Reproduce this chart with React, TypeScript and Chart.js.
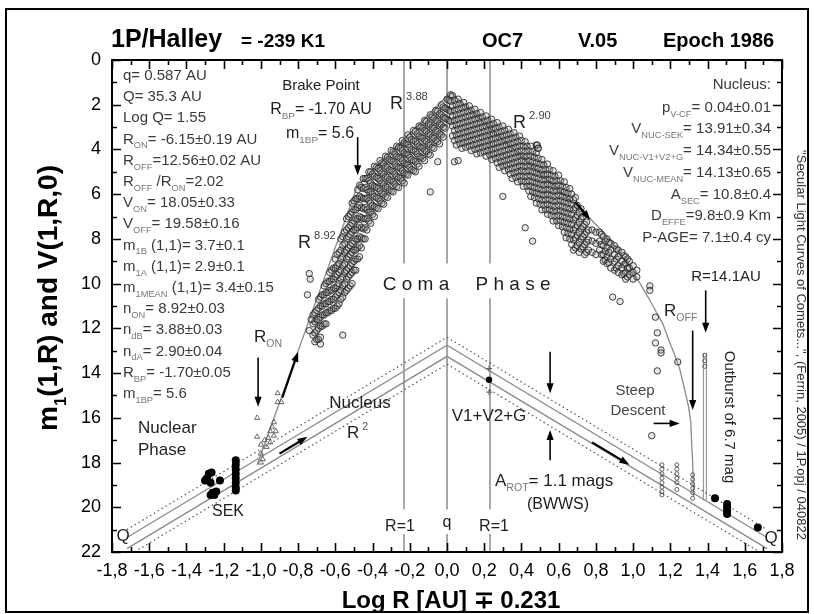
import React, { useEffect, useRef } from "react";
import { Chart, registerables } from "chart.js";

Chart.register(...registerables);

// ---------------- data ----------------
const xMin = -1.8;
const xMax = 1.8;
const yMin = 0;
const yMax = 22;

// pre-perihelion coma observations: column x and magnitudes
const preX = [
  -0.72, -0.71, -0.7, -0.69, -0.68, -0.67, -0.66, -0.65, -0.64, -0.63, -0.62, -0.61, -0.6, -0.59, -0.58, -0.57, -0.56, -0.55,
  -0.54, -0.53, -0.52, -0.51, -0.5, -0.49, -0.48, -0.47, -0.46, -0.45, -0.44, -0.43, -0.42, -0.41, -0.4, -0.39, -0.38, -0.37,
  -0.36, -0.35, -0.34, -0.33, -0.32, -0.31, -0.3, -0.29, -0.28, -0.27, -0.26, -0.25, -0.24, -0.23, -0.22, -0.21, -0.2, -0.19,
  -0.18, -0.17, -0.16, -0.15, -0.14, -0.13, -0.12, -0.11, -0.1, -0.09, -0.08, -0.07, -0.06, -0.05, -0.04, -0.03, -0.02, -0.01,
];
const preM = [
  [11.4, 11.8, 12.3], [11.3, 11.7, 12.2, 12.6], [11.2, 11.6, 12.1, 12.5], [10.7, 11.1, 11.6, 12.0, 12.5],
  [10.6, 11.0, 11.5, 11.9, 12.4], [10.5, 11.0, 11.4, 11.9], [10.1, 10.5, 10.9, 11.4, 11.8], [10.0, 10.4, 10.9, 11.3, 11.8],
  [9.9, 10.4, 10.8, 11.3], [9.5, 9.9, 10.3, 10.8, 11.2], [9.4, 9.8, 10.3, 10.7, 11.2], [9.3, 9.8, 10.2, 10.7, 11.1],
  [8.9, 9.3, 9.7, 10.2, 10.6, 11.1], [8.7, 9.2, 9.6, 10.1, 10.5, 11.0], [8.6, 9.1, 9.5, 10.0, 10.4, 10.9],
  [8.0, 8.5, 8.9, 9.4, 9.8, 10.3, 10.7], [7.9, 8.3, 8.8, 9.2, 9.7, 10.1, 10.6], [7.7, 8.2, 8.6, 9.1, 9.5, 10.0, 10.4],
  [7.1, 7.6, 8.0, 8.5, 8.9, 9.4, 9.8, 10.3], [7.0, 7.5, 7.9, 8.4, 8.8, 9.3, 9.7, 10.2], [6.9, 7.4, 7.8, 8.3, 8.7, 9.2, 9.6, 10.1],
  [6.4, 6.8, 7.3, 7.7, 8.2, 8.6, 9.1, 9.5, 10.0], [6.3, 6.7, 7.2, 7.6, 8.1, 8.5, 9.0, 9.4], [6.2, 6.7, 7.1, 7.6, 8.0, 8.5, 8.9, 9.4],
  [5.8, 6.2, 6.6, 7.1, 7.5, 8.0, 8.4, 8.9], [5.6, 6.1, 6.5, 7.0, 7.4, 7.9, 8.3, 8.8], [5.7, 6.15, 6.6, 7.05, 7.5, 7.95, 8.4],
  [5.3, 5.75, 6.2, 6.65, 7.1, 7.55, 8.0], [5.3, 5.7, 6.2, 6.6, 7.1, 7.5, 8.0], [5.3, 5.8, 6.2, 6.7, 7.1, 7.6],
  [5.0, 5.4, 5.9, 6.3, 6.8, 7.2], [5.0, 5.5, 5.9, 6.4, 6.8, 7.3], [5.1, 5.6, 6.0, 6.5, 6.9], [4.75, 5.2, 5.65, 6.1, 6.55, 7.0],
  [4.8, 5.25, 5.7, 6.15, 6.6], [4.85, 5.3, 5.75, 6.2, 6.65], [4.5, 4.95, 5.4, 5.85, 6.3], [4.6, 5.05, 5.5, 5.95, 6.4],
  [4.65, 5.1, 5.55, 6.0, 6.45], [4.3, 4.75, 5.2, 5.65, 6.1], [4.35, 4.8, 5.25, 5.7, 6.15], [4.45, 4.9, 5.35, 5.8],
  [4.05, 4.5, 4.95, 5.4, 5.85], [4.1, 4.55, 5.0, 5.45, 5.9], [4.2, 4.65, 5.1, 5.55], [3.85, 4.3, 4.75, 5.2, 5.65],
  [3.9, 4.35, 4.8, 5.25, 5.7], [3.95, 4.4, 4.85, 5.3], [3.6, 4.05, 4.5, 4.95, 5.4], [3.7, 4.15, 4.6, 5.05, 5.5],
  [3.75, 4.2, 4.65, 5.1], [3.35, 3.8, 4.25, 4.7, 5.15], [3.45, 3.9, 4.35, 4.8], [3.55, 4.0, 4.45, 4.9],
  [3.15, 3.6, 4.05, 4.5, 4.95], [3.2, 3.65, 4.1, 4.55, 5.0], [3.3, 3.75, 4.2, 4.65], [2.95, 3.4, 3.85, 4.3, 4.75],
  [3.0, 3.45, 3.9, 4.35], [3.05, 3.5, 3.95, 4.4], [2.7, 3.15, 3.6, 4.05, 4.5], [2.75, 3.2, 3.65, 4.1],
  [2.85, 3.3, 3.75, 4.2], [2.45, 2.9, 3.35, 3.8, 4.25, 5.9], [2.55, 3.0, 3.45, 3.9], [2.6, 3.05, 3.5, 3.95],
  [2.25, 2.7, 3.15, 3.6], [2.3, 2.75, 3.2, 3.65, 4.55], [2.4, 2.85, 3.3, 3.75], [2.0, 2.45, 2.9, 3.35],
  [2.1, 2.55, 3.0, 3.45], [2.15, 2.6, 3.05],
];
// pre-perihelion stragglers
const preOutliers = [
  [-0.74, 9.55], [-0.735, 9.8], [-0.75, 10.5], [-0.74, 12.1], [-0.73, 11.6], [-0.68, 12.7], [-0.56, 12.3],
];

// post-perihelion coma observations
const postX = [
  0.0, 0.01, 0.02, 0.03, 0.04, 0.05, 0.06, 0.07, 0.08, 0.09, 0.1, 0.11, 0.12, 0.13, 0.14, 0.15, 0.16, 0.17, 0.18, 0.19,
  0.2, 0.21, 0.22, 0.23, 0.24, 0.25, 0.26, 0.27, 0.28, 0.29, 0.3, 0.31, 0.32, 0.33, 0.34, 0.35, 0.36, 0.37, 0.38, 0.39,
  0.4, 0.41, 0.42, 0.43, 0.44, 0.45, 0.46, 0.47, 0.48, 0.49, 0.5, 0.51, 0.52, 0.53, 0.54, 0.55, 0.56, 0.57, 0.58, 0.59,
  0.6, 0.61, 0.62, 0.63, 0.64, 0.65, 0.66, 0.67, 0.68, 0.69, 0.7, 0.71, 0.72, 0.73, 0.74, 0.75, 0.76, 0.78, 0.8,
  0.82, 0.83, 0.84, 0.85, 0.86, 0.87, 0.88, 0.9, 0.91, 0.92, 0.94, 0.95, 0.96, 0.97, 0.98, 1.0, 1.02,
];
const postM = [
  [1.75, 2.2, 2.65], [1.8, 2.25, 2.7], [1.55, 1.85, 2.3, 2.75], [1.6, 2.05, 2.5, 2.95, 3.4], [1.8, 2.25, 2.7, 3.15, 3.6],
  [2.0, 2.45, 2.9, 3.35, 3.8], [1.75, 2.2, 2.65, 3.1, 3.55], [1.95, 2.4, 2.85, 3.3, 3.75], [2.15, 2.6, 3.05, 3.5, 3.95],
  [1.9, 2.35, 2.8, 3.25, 3.7], [2.1, 2.55, 3.0, 3.45, 3.9], [2.3, 2.75, 3.2, 3.65], [2.05, 2.5, 2.95, 3.4, 3.85],
  [2.25, 2.7, 3.15, 3.6, 4.05], [2.45, 2.9, 3.35, 3.8], [2.2, 2.65, 3.1, 3.55, 4.0], [2.4, 2.85, 3.3, 3.75, 4.2],
  [2.6, 3.05, 3.5, 3.95], [2.35, 2.8, 3.25, 3.7, 4.15], [2.55, 3.0, 3.45, 3.9], [2.75, 3.2, 3.65, 4.1],
  [2.5, 2.95, 3.4, 3.85, 4.3], [2.7, 3.15, 3.6, 4.05], [2.9, 3.35, 3.8, 4.25], [2.65, 3.1, 3.55, 4.0, 4.45],
  [2.85, 3.3, 3.75, 4.2], [3.05, 3.5, 3.95, 4.4], [2.8, 3.25, 3.7, 4.15, 4.6], [3.0, 3.45, 3.9, 4.35, 4.8],
  [3.2, 3.65, 4.1, 4.55], [2.95, 3.4, 3.85, 4.3, 4.75, 6.1], [3.15, 3.6, 4.05, 4.5, 4.95], [3.35, 3.8, 4.25, 4.7],
  [3.1, 3.55, 4.0, 4.45, 4.9], [3.3, 3.75, 4.2, 4.65, 5.1], [3.5, 3.95, 4.4, 4.85, 5.3], [3.25, 3.7, 4.15, 4.6, 5.05],
  [3.45, 3.9, 4.35, 4.8, 5.25], [3.65, 4.1, 4.55, 5.0, 5.45], [3.4, 3.85, 4.3, 4.75, 5.2], [3.6, 4.05, 4.5, 4.95, 5.4],
  [3.85, 4.3, 4.75, 5.2, 5.65], [3.65, 4.1, 4.55, 5.0, 5.45, 7.5], [3.85, 4.3, 4.75, 5.2, 5.65], [4.05, 4.5, 4.95, 5.4, 5.85],
  [3.85, 4.3, 4.75, 5.2, 5.65, 6.1], [4.1, 4.55, 5.0, 5.45, 5.9, 8.1], [4.35, 4.8, 5.25, 5.7, 6.15],
  [3.8, 4.15, 4.6, 5.05, 5.5, 5.95, 6.4], [3.95, 4.4, 4.85, 5.3, 5.75, 6.2], [4.65, 5.1, 5.55, 6.0, 6.45],
  [4.45, 4.9, 5.35, 5.8, 6.25, 6.7], [4.7, 5.15, 5.6, 6.05, 6.5], [4.9, 5.35, 5.8, 6.25, 6.7],
  [4.65, 5.1, 5.55, 6.0, 6.45, 6.9], [4.9, 5.35, 5.8, 6.25, 6.7], [5.15, 5.6, 6.05, 6.5, 6.95],
  [4.95, 5.4, 5.85, 6.3, 6.75, 7.2], [5.2, 5.65, 6.1, 6.55, 7.0], [5.4, 5.85, 6.3, 6.75, 7.2],
  [5.15, 5.6, 6.05, 6.5, 6.95, 7.4], [5.4, 5.85, 6.3, 6.75, 7.2], [5.65, 6.1, 6.55, 7.0, 7.45],
  [5.45, 5.9, 6.35, 6.8, 7.25, 7.7], [5.7, 6.15, 6.6, 7.05, 7.5, 7.95], [5.95, 6.4, 6.85, 7.3, 7.75],
  [5.75, 6.2, 6.65, 7.1, 7.55, 8.0], [6.0, 6.45, 6.9, 7.35, 7.8, 8.25], [6.25, 6.7, 7.15, 7.6, 8.05, 8.5],
  [6.15, 6.6, 7.05, 7.5, 7.95, 8.4], [6.5, 6.95, 7.4, 7.85, 8.3], [6.8, 7.25, 7.7, 8.15, 8.6],
  [6.65, 7.1, 7.55, 8.0, 8.45], [7.0, 7.45, 7.9, 8.35], [7.35, 7.8, 8.25, 8.7], [7.25, 7.7, 8.15, 8.6],
  [7.6, 8.05, 8.5], [7.6, 8.1, 8.6], [7.7, 8.2, 8.7],
  [7.7, 8.1, 8.5], [7.8, 8.25, 8.7], [7.9, 8.3, 8.7, 9.0], [8.1, 8.55, 8.95], [8.0, 8.4, 8.8, 9.1], [8.15, 8.6, 9.05],
  [8.2, 8.5, 8.9, 9.3], [8.3, 8.7, 9.0, 9.4], [8.45, 8.9, 9.3], [8.5, 8.8, 9.2, 9.5], [8.6, 9.0, 9.3, 9.6],
  [8.75, 9.15, 9.55], [8.8, 9.1, 9.5, 9.8], [8.9, 9.3, 9.7], [9.0, 9.3, 9.6], [9.2, 9.5, 9.8], [9.4, 9.7],
];
// post-perihelion stragglers
const postOutliers = [
  [0.04, 4.55], [0.06, 4.5], [0.485, 3.8], [0.49, 3.95], [0.89, 10.6], [0.93, 10.8], [1.09, 10.1], [1.09, 10.3],
  [1.12, 11.5], [1.12, 12.65], [1.13, 12.2], [1.13, 13.9], [1.15, 12.97], [1.15, 13.1], [1.24, 13.5], [1.1, 16.8],
];

// onset observations (open triangles)
const onsetTriangles = [
  [-1.02, 16.0], [-1.02, 16.85], [-1.0, 17.2], [-1.0, 17.6], [-1.0, 18.0], [-0.99, 17.85],
  [-0.98, 17.0], [-0.97, 17.3], [-0.96, 16.9], [-0.95, 16.6], [-0.94, 16.4], [-0.93, 16.2],
  [-0.92, 16.6], [-0.91, 15.3], [-0.91, 14.9], [-0.89, 15.3], [-0.93, 16.8], [-0.95, 17.1],
];

// far-from-Sun nucleus photometry (filled)
const sekPoints = [
  [-1.29, 18.7], [-1.28, 18.5], [-1.27, 18.9], [-1.265, 18.45], [-1.3, 18.8], [-1.22, 18.8],
  [-1.26, 19.35], [-1.24, 19.3], [-1.27, 19.45], [-1.25, 19.45],
  [-1.135, 17.9], [-1.135, 18.1], [-1.135, 18.3], [-1.135, 18.5], [-1.135, 18.7], [-1.135, 18.9], [-1.135, 19.1], [-1.135, 19.25],
];
const outboundNucleus = [
  [1.44, 19.6], [1.505, 19.85], [1.505, 20.0], [1.505, 20.15], [1.505, 20.3], [1.67, 20.9],
];
const v1v2gPoint = [[0.226, 14.3]];
const v1v2gLimits = [[0.226, 13.8], [0.226, 14.85]];

// post-perihelion faint columns (small circles)
const tailX = [1.155, 1.235, 1.32, 1.385];
const tailM = [
  [18.1, 18.3, 18.5, 18.7, 18.9, 19.1, 19.3, 19.45],
  [18.1, 18.3, 18.5, 18.7, 18.9, 19.2],
  [18.55, 18.75, 18.95, 19.15, 19.35, 19.6],
  [13.2, 13.45, 13.7],
];

// secular light curve model (coma envelope)
const comaX = [-1.02, -0.48, 0.02, 0.77, 0.84, 0.9, 0.96, 1.02, 1.08, 1.12, 1.16, 1.19, 1.22, 1.25, 1.27, 1.29, 1.3, 1.31, 1.315, 1.32, 1.325];
const comaM = [18.1, 5.6, 1.45, 7.1, 7.7, 8.3, 9.0, 9.75, 10.6, 11.2, 11.8, 12.5, 13.1, 13.8, 14.5, 15.2, 15.6, 16.2, 17.2, 18.0, 19.5];

// nucleus R^2 lines (x at the ends and at perihelion)
const nucleusX = [-1.72, 0, 1.72];
const nucleusSolidM = [
  [21.35, 12.75, 21.35],
  [21.85, 13.25, 21.85],
];
const nucleusDottedM = [
  [21.0, 12.4, 21.0],
  [22.2, 13.6, 22.2],
];

// vertical reference lines R=1 (pre), q, R=1 (post), broken around labels
const refX = [-0.231, 0, 0.231];
const refSegments = [[0, 9.1], [10.65, 20.1], [21.2, 22]];

// outburst at R = 14.1 AU
const outburstX = [1.378, 1.394];
const outburstM = [13.1, 19.7];

// arrows: [x0, m0, x1, m1, thick]
const arrows = [
  [-0.48, 3.45, -0.48, 5.15, 0],
  [-1.015, 13.3, -1.015, 15.5, 0],
  [-0.885, 15.1, -0.8, 13.05, 1],
  [-0.9, 17.6, -0.75, 16.85, 1],
  [0.69, 6.35, 0.77, 7.15, 1],
  [0.78, 17.1, 0.98, 18.1, 1],
  [0.554, 13.05, 0.554, 14.9, 0],
  [0.554, 17.9, 0.554, 16.55, 0],
  [1.32, 12.1, 1.32, 15.65, 0],
  [1.39, 10.3, 1.39, 12.2, 0],
  [1.11, 16.25, 1.25, 16.25, 0],
];

// ---------------- helpers ----------------
const FAMILY = '"Liberation Sans", Arial, Helvetica, sans-serif';
const fnt = (size: number, bold = false) => `${bold ? "bold " : ""}${size}px ${FAMILY}`;

const cols = (xs: number[], ms: number[][]) =>
  xs.flatMap((x, i) => ms[i].map((m) => ({ x, y: m })));
const pairs = (ps: number[][]) => ps.map(([x, m]) => ({ x, y: m }));

type Part = [string, number?];

function rich(
  ctx: CanvasRenderingContext2D,
  parts: Part[],
  x: number,
  y: number,
  size: number,
  align: "left" | "center" | "right",
  color: string,
  subColor: string,
  bold = false,
  subScale = 0.62
) {
  ctx.textAlign = "left";
  ctx.textBaseline = "alphabetic";
  const widths = parts.map(([t, k]) => {
    ctx.font = fnt(k ? size * subScale : size, bold);
    return ctx.measureText(t).width;
  });
  const total = widths.reduce((a, b) => a + b, 0);
  let cx = align === "center" ? x - total / 2 : align === "right" ? x - total : x;
  parts.forEach(([t, k], i) => {
    ctx.font = fnt(k ? size * subScale : size, bold);
    ctx.fillStyle = k ? subColor : color;
    const dy = k === 1 ? size * 0.32 : k === 2 ? -size * 0.5 : 0;
    ctx.fillText(t, cx, y + dy);
    cx += widths[i];
  });
}

function arrow(ctx: CanvasRenderingContext2D, x0: number, y0: number, x1: number, y1: number, thick: boolean) {
  const ang = Math.atan2(y1 - y0, x1 - x0);
  const hl = 10;
  const hw = 3.6;
  ctx.strokeStyle = "#000";
  ctx.fillStyle = "#000";
  ctx.lineWidth = thick ? 2.2 : 1.6;
  ctx.beginPath();
  ctx.moveTo(x0, y0);
  ctx.lineTo(x1 - Math.cos(ang) * hl * 0.8, y1 - Math.sin(ang) * hl * 0.8);
  ctx.stroke();
  ctx.beginPath();
  ctx.moveTo(x1, y1);
  ctx.lineTo(x1 - Math.cos(ang) * hl - Math.sin(ang) * hw, y1 - Math.sin(ang) * hl + Math.cos(ang) * hw);
  ctx.lineTo(x1 - Math.cos(ang) * hl + Math.sin(ang) * hw, y1 - Math.sin(ang) * hl - Math.cos(ang) * hw);
  ctx.closePath();
  ctx.fill();
}

const overlayPlugin = {
  id: "halleyOverlay",
  afterDraw(chart: any) {
    const ctx: CanvasRenderingContext2D = chart.ctx;
    const { left, right, top, bottom } = chart.chartArea;
    const xs = chart.scales.x;
    const ys = chart.scales.y;
    const X = (v: number) => xs.getPixelForValue(v);
    const Y = (v: number) => ys.getPixelForValue(v);
    ctx.save();

    // inward ticks on all four sides
    ctx.strokeStyle = "#000";
    ctx.lineWidth = 1.6;
    ctx.beginPath();
    for (let i = -18; i <= 18; i++) {
      const px = Math.round(X(i / 10)) + 0.5;
      const len = i % 2 === 0 ? 9 : 5;
      ctx.moveTo(px, bottom);
      ctx.lineTo(px, bottom - len);
      ctx.moveTo(px, top);
      ctx.lineTo(px, top + len);
    }
    for (let j = 0; j <= 22; j++) {
      const py = Math.round(Y(j)) + 0.5;
      const len = j % 2 === 0 ? 9 : 5;
      ctx.moveTo(left, py);
      ctx.lineTo(left + len, py);
      ctx.moveTo(right, py);
      ctx.lineTo(right - len, py);
    }
    ctx.stroke();

    // plot frame and outer frame
    ctx.lineWidth = 2;
    ctx.strokeRect(left, top, right - left, bottom - top);
    ctx.strokeRect(6, 9, 802, 603);

    // arrows
    arrows.forEach(([a, b, c, d, t]) => arrow(ctx, X(a), Y(b), X(c), Y(d), t === 1));

    // title
    ctx.fillStyle = "#000";
    ctx.textAlign = "left";
    ctx.textBaseline = "alphabetic";
    ctx.font = fnt(25, true);
    ctx.fillText("1P/Halley", 111, 47);
    ctx.font = fnt(19, true);
    ctx.fillText("= -239 K1", 241, 47);
    ctx.font = fnt(20, true);
    ctx.fillText("OC7", 482, 47);
    ctx.fillText("V.05", 578, 47);
    ctx.fillText("Epoch 1986", 663, 47);

    // axis titles
    ctx.textAlign = "center";
    ctx.font = fnt(24, true);
    ctx.fillText("Log R [AU] \u2213 0.231", 451, 608);
    ctx.save();
    ctx.translate(57, 298);
    ctx.rotate(-Math.PI / 2);
    rich(ctx, [["m"], ["1", 1], ["(1,R) and V(1,R,0)"]], 0, 0, 28, "center", "#000", "#000", true, 0.6);
    ctx.restore();

    // left parameter block
    const gray = "#3a3a3a";
    const sub = "#777";
    const leftBlock: Part[][] = [
      [["q= 0.587 AU"]],
      [["Q= 35.3 AU"]],
      [["Log Q= 1.55"]],
      [["R"], ["ON", 1], ["= -6.15\u00b10.19 AU"]],
      [["R"], ["OFF", 1], ["=12.56\u00b10.02 AU"]],
      [["R"], ["OFF", 1], [" /R"], ["ON", 1], ["=2.02"]],
      [["V"], ["ON", 1], ["= 18.05\u00b10.33"]],
      [["V"], ["OFF", 1], ["= 19.58\u00b10.16"]],
      [["m"], ["1B", 1], [" (1,1)= 3.7\u00b10.1"]],
      [["m"], ["1A", 1], [" (1,1)= 2.9\u00b10.1"]],
      [["m"], ["1MEAN", 1], [" (1,1)= 3.4\u00b10.15"]],
      [["n"], ["ON", 1], ["= 8.92\u00b10.03"]],
      [["n"], ["dB", 1], ["= 3.88\u00b10.03"]],
      [["n"], ["dA", 1], ["= 2.90\u00b10.04"]],
      [["R"], ["BP", 1], ["= -1.70\u00b10.05"]],
      [["m"], ["1BP", 1], ["= 5.6"]],
    ];
    leftBlock.forEach((p, i) => rich(ctx, p, 123, 80 + i * 21.2, 15, "left", gray, sub));

    // right parameter block
    const rightBlock: [Part[], number][] = [
      [[["Nucleus:"]], 89],
      [[["p"], ["V-CF", 1], ["= 0.04\u00b10.01"]], 112],
      [[["V"], ["NUC-SEK", 1], ["= 13.91\u00b10.34"]], 133],
      [[["V"], ["NUC-V1+V2+G", 1], ["= 14.34\u00b10.55"]], 155],
      [[["V"], ["NUC-MEAN", 1], ["= 14.13\u00b10.65"]], 177],
      [[["A"], ["SEC", 1], ["= 10.8\u00b10.4"]], 199],
      [[["D"], ["EFFE", 1], ["=9.8\u00b10.9 Km"]], 220],
      [[["P-AGE= 7.1\u00b10.4 cy"]], 242],
    ];
    rightBlock.forEach(([p, y]) => rich(ctx, p, 771, y, 15, "right", gray, sub));
    rich(ctx, [["R=14.1AU"]], 726, 281, 15, "center", "#222", sub);

    // plot annotations
    const dark = "#1e1e1e";
    rich(ctx, [["Brake Point"]], 321, 90, 15, "center", dark, sub);
    rich(ctx, [["R"], ["BP", 1], ["= -1.70 AU"]], 321, 114, 16, "center", dark, sub);
    rich(ctx, [["m"], ["1BP", 1], ["= 5.6"]], 320, 138, 16, "center", dark, sub);
    rich(ctx, [["R"], [" 3.88", 2]], 390, 109, 18, "left", dark, "#444");
    rich(ctx, [["R"], [" 2.90", 2]], 513, 128, 18, "left", dark, "#444");
    rich(ctx, [["R"], [" 8.92", 2]], 298, 248, 18, "left", dark, "#444");
    rich(ctx, [["C o m a"]], 416, 290, 19, "center", dark, sub);
    rich(ctx, [["P h a s e"]], 513, 290, 19, "center", dark, sub);
    rich(ctx, [["R"], ["ON", 1]], 254, 342, 17, "left", dark, sub);
    rich(ctx, [["R"], ["OFF", 1]], 664, 316, 17, "left", dark, sub);
    rich(ctx, [["Nucleus"]], 360, 408, 17, "center", dark, sub);
    rich(ctx, [["R"], [" 2", 2]], 347, 438, 17, "left", dark, "#555");
    rich(ctx, [["Nuclear"]], 138, 433, 17, "left", dark, sub);
    rich(ctx, [["Phase"]], 138, 455, 17, "left", dark, sub);
    rich(ctx, [["SEK"]], 228, 516, 16, "center", dark, sub);
    rich(ctx, [["Q"]], 123, 541, 17, "center", dark, sub);
    rich(ctx, [["Q"]], 771, 543, 17, "center", dark, sub);
    rich(ctx, [["R=1"]], 400, 531, 16, "center", dark, sub);
    rich(ctx, [["q"]], 447, 527, 16, "center", dark, sub);
    rich(ctx, [["R=1"]], 494, 531, 16, "center", dark, sub);
    rich(ctx, [["V1+V2+G"]], 489, 421, 17, "center", dark, sub);
    rich(ctx, [["A"], ["ROT", 1], ["= 1.1 mags"]], 495, 486, 17, "left", dark, sub);
    rich(ctx, [["(BWWS)"]], 558, 509, 16, "center", dark, sub);
    rich(ctx, [["Steep"]], 635, 395, 15, "center", "#444", sub);
    rich(ctx, [["Descent"]], 638, 415, 15, "center", "#444", sub);

    ctx.save();
    ctx.translate(730, 417);
    ctx.rotate(Math.PI / 2);
    rich(ctx, [["Outburst of 6.7 mag"]], 0, 5, 15, "center", "#222", sub);
    ctx.restore();

    ctx.save();
    ctx.translate(801, 345);
    ctx.rotate(Math.PI / 2);
    ctx.textAlign = "center";
    ctx.fillStyle = "#333";
    ctx.font = fnt(13);
    ctx.fillText('"Secular Light Curves of Comets...", (Ferrin, 2005) / 1P.opj / 040822', 0, 4, 392);
    ctx.restore();

    ctx.restore();
  },
};

// ---------------- component ----------------
export default function App() {
  const ref = useRef<HTMLCanvasElement | null>(null);

  useEffect(() => {
    if (!ref.current) return;
    const lineGray = "#8a8a8a";
    const cloudBorder = "rgba(35,35,35,0.85)";
    const cloudFill = "rgba(150,150,150,0.25)";
    const datasets: any[] = [];

    datasets.push({
      label: "pre-perihelion",
      data: [...cols(preX, preM), ...pairs(preOutliers)],
      pointStyle: "circle",
      pointRadius: 3.2,
      borderWidth: 1,
      borderColor: cloudBorder,
      backgroundColor: cloudFill,
      showLine: false,
      order: 2,
    });
    datasets.push({
      label: "post-perihelion",
      data: [...cols(postX, postM), ...pairs(postOutliers)],
      pointStyle: "circle",
      pointRadius: 3.2,
      borderWidth: 1,
      borderColor: cloudBorder,
      backgroundColor: cloudFill,
      showLine: false,
      order: 2,
    });
    datasets.push({
      label: "faint columns",
      data: cols(tailX, tailM),
      pointStyle: "circle",
      pointRadius: 2,
      borderWidth: 1,
      borderColor: "rgba(70,70,70,0.85)",
      backgroundColor: "rgba(255,255,255,0)",
      showLine: false,
      order: 2,
    });
    datasets.push({
      label: "onset",
      data: pairs(onsetTriangles),
      pointStyle: "triangle",
      pointRadius: 3,
      borderWidth: 1,
      borderColor: "rgba(90,90,90,0.9)",
      backgroundColor: "rgba(255,255,255,0)",
      showLine: false,
      order: 2,
    });
    datasets.push({
      label: "SEK",
      data: pairs(sekPoints),
      pointStyle: "circle",
      pointRadius: 4,
      borderWidth: 0,
      backgroundColor: "#000",
      showLine: false,
      order: 1,
    });
    datasets.push({
      label: "outbound nucleus",
      data: pairs(outboundNucleus),
      pointStyle: "circle",
      pointRadius: 4,
      borderWidth: 0,
      backgroundColor: "#000",
      showLine: false,
      order: 1,
    });
    datasets.push({
      label: "V1+V2+G",
      data: pairs(v1v2gPoint),
      pointStyle: "circle",
      pointRadius: 3.2,
      borderWidth: 0,
      backgroundColor: "#000",
      showLine: false,
      order: 1,
    });
    datasets.push({
      label: "V1+V2+G range",
      data: pairs(v1v2gLimits),
      pointStyle: "cross",
      pointRadius: 3,
      borderWidth: 1,
      borderColor: "#555",
      showLine: false,
      order: 1,
    });

    datasets.push({
      label: "coma model",
      data: comaX.map((x, i) => ({ x, y: comaM[i] })),
      showLine: true,
      pointRadius: 0,
      borderColor: lineGray,
      borderWidth: 1.3,
      tension: 0,
      order: 5,
    });
    nucleusSolidM.forEach((ms, k) =>
      datasets.push({
        label: "nucleus " + k,
        data: nucleusX.map((x, i) => ({ x, y: ms[i] })),
        showLine: true,
        pointRadius: 0,
        borderColor: lineGray,
        borderWidth: 1.3,
        order: 6,
      })
    );
    nucleusDottedM.forEach((ms, k) =>
      datasets.push({
        label: "nucleus range " + k,
        data: nucleusX.map((x, i) => ({ x, y: ms[i] })),
        showLine: true,
        pointRadius: 0,
        borderColor: "#555",
        borderWidth: 1.2,
        borderDash: [1.5, 3],
        order: 6,
      })
    );
    refX.forEach((x, k) =>
      datasets.push({
        label: "ref " + k,
        data: refSegments.flatMap(([a, b]) => [
          { x, y: a },
          { x, y: b },
          { x, y: null },
        ]),
        showLine: true,
        spanGaps: false,
        pointRadius: 0,
        borderColor: "#7a7a7a",
        borderWidth: 1.3,
        order: 6,
      })
    );
    outburstX.forEach((x, k) =>
      datasets.push({
        label: "outburst " + k,
        data: outburstM.map((m) => ({ x, y: m })),
        showLine: true,
        pointRadius: 0,
        borderColor: "#9a9a9a",
        borderWidth: 1.2,
        order: 6,
      })
    );

    const tickFont = { family: FAMILY, size: 18 };
    const chart = new Chart(ref.current, {
      type: "scatter",
      data: { datasets },
      options: {
        animation: false,
        responsive: false,
        events: [],
        layout: { padding: { left: 0, top: 60, right: 32, bottom: 0 } },
        plugins: {
          legend: { display: false },
          tooltip: { enabled: false },
          title: { display: false },
        },
        scales: {
          x: {
            type: "linear",
            min: xMin,
            max: xMax,
            grid: { display: false, drawTicks: false },
            border: { display: false },
            ticks: {
              stepSize: 0.2,
              padding: 8,
              color: "#000",
              font: tickFont,
              autoSkip: false,
              maxRotation: 0,
              callback: (v: any) => {
                const n = Math.abs(Number(v)) < 1e-9 ? 0 : Number(v);
                return n.toFixed(1).replace(".", ",");
              },
            },
            afterFit: (s: any) => {
              s.height = 62;
            },
          },
          y: {
            type: "linear",
            reverse: true,
            min: yMin,
            max: yMax,
            grid: { display: false, drawTicks: false },
            border: { display: false },
            ticks: {
              stepSize: 2,
              padding: 11,
              color: "#000",
              font: tickFont,
              autoSkip: false,
            },
            afterFit: (s: any) => {
              s.width = 112;
            },
          },
        },
      } as any,
      plugins: [overlayPlugin],
    });
    return () => chart.destroy();
  }, []);

  return (
    <div style={{ position: "absolute", left: 0, top: 0, width: 814, height: 614, background: "#fff" }}>
      <canvas ref={ref} width={814} height={614} style={{ display: "block" }} />
    </div>
  );
}
